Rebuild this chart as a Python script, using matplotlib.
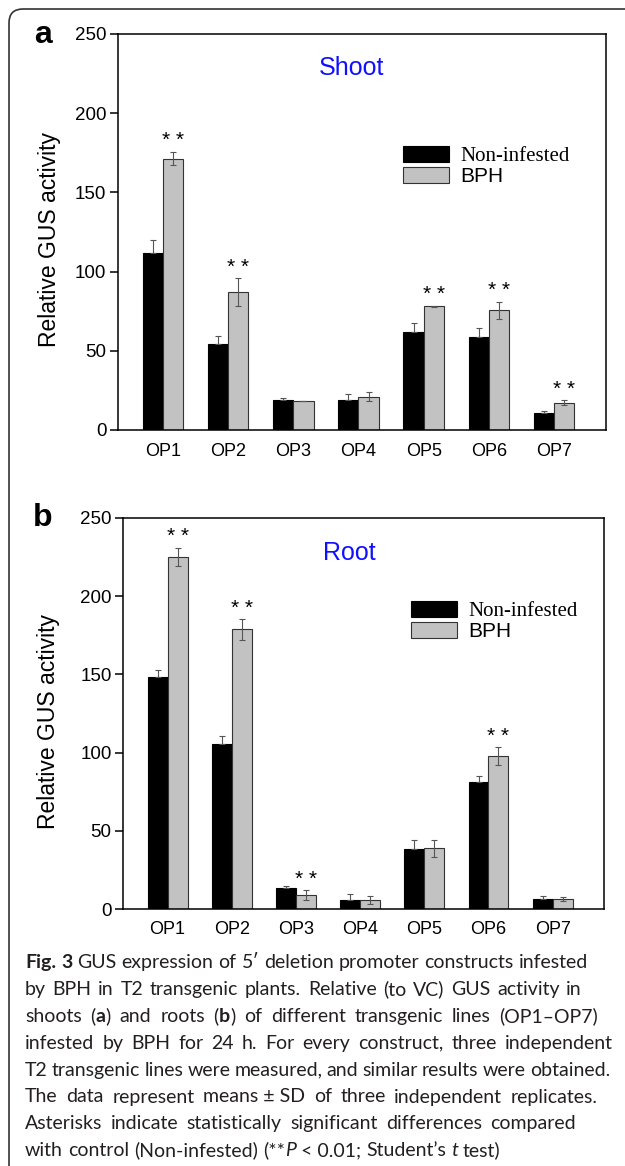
import re
import matplotlib.pyplot as plt
import numpy as np
from matplotlib.patches import FancyBboxPatch
from matplotlib.transforms import IdentityTransform

plt.rcParams['font.family'] = ['Liberation Sans', 'DejaVu Sans']

constructs = ["OP1", "OP2", "OP3", "OP4", "OP5", "OP6", "OP7"]

# panel a - shoots
shoot_ctrl = [111.6, 54.3, 19.0, 19.0, 61.7, 58.5, 11.0]
shoot_ctrl_sd = [8.4, 5.1, 1.4, 3.7, 5.7, 5.9, 1.2]
shoot_bph = [171.4, 87.2, 18.5, 21.0, 78.1, 75.6, 17.3]
shoot_bph_sd = [4.4, 8.8, 0.0, 2.8, 0.3, 5.3, 1.4]
shoot_sig = [True, True, False, False, True, True, True]

# panel b - roots
root_ctrl = [148.6, 105.5, 13.2, 6.0, 38.3, 81.3, 6.4]
root_ctrl_sd = [4.3, 5.2, 1.3, 3.4, 5.7, 3.9, 2.1]
root_bph = [225.1, 178.8, 9.0, 6.0, 38.7, 97.8, 6.4]
root_bph_sd = [6.0, 6.6, 3.0, 2.6, 5.5, 5.6, 1.0]
root_sig = [True, True, True, False, False, True, False]

caption = [
    "<b>Fig. 3</b> GUS expression of 5\u2032 deletion promoter constructs infested",
    "by BPH in T2 transgenic plants. Relative (to VC) GUS activity in",
    "shoots (<b>a</b>) and roots (<b>b</b>) of different transgenic lines (OP1\u2013OP7)",
    "infested by BPH for 24 h. For every construct, three independent",
    "T2 transgenic lines were measured, and similar results were obtained.",
    "The data represent means~\u00b1~SD of three independent replicates.",
    "Asterisks indicate statistically significant differences compared",
    "with control (Non-infested) (**<i>P</i>~<~0.01; Student\u2019s <i>t</i> test)",
]
caption_right = [588, 582, 598, 613, 610, 598, 576, None]

W, H = 625, 1166
fig = plt.figure(figsize=(W / 100, H / 100), dpi=100)


def px_rect(l, t, r, b):
    return [l / W, 1 - b / H, (r - l) / W, (b - t) / H]


def panel(ax, ctrl, ctrl_sd, bph, bph_sd, sig, title, title_xy, leg_xy, ylab_x):
    x = np.arange(len(constructs))
    w = 0.31
    ekw = dict(ecolor='#555555', elinewidth=0.8, capsize=2.5, capthick=0.8)
    ax.bar(x - w / 2, ctrl, w, yerr=(np.zeros(len(ctrl)), ctrl_sd), color='black',
           edgecolor='black', lw=0.8, label='Non-infested', error_kw=ekw)
    ax.bar(x + w / 2, bph, w, yerr=bph_sd, color='#c2c2c2', edgecolor='#333333',
           lw=0.8, label='BPH', error_kw=ekw)
    for i in range(len(constructs)):
        if sig[i]:
            ax.annotate('* *', (x[i] + w / 2, bph[i] + bph_sd[i]), xytext=(0, 1),
                        textcoords='offset points', ha='center', va='bottom', fontsize=15)
    ax.set_xlim(-0.7, 6.8)
    ax.set_ylim(0, 250)
    ax.set_yticks([0, 50, 100, 150, 200, 250])
    ax.set_xticks(x)
    ax.set_xticklabels(constructs)
    for s in ax.spines.values():
        s.set_linewidth(1.1)
    ax.tick_params(axis='y', direction='out', length=6, width=1.1, labelsize=13.5, pad=2)
    ax.tick_params(axis='x', length=0, pad=9, labelsize=13)
    ax.set_ylabel('Relative GUS activity', fontsize=16.5)
    ax.yaxis.set_label_coords(ylab_x, 0.48)
    ax.text(title_xy[0], title_xy[1], title, color='#1010ff', fontsize=18,
            ha='center', va='center', transform=ax.transAxes)
    leg = ax.legend(loc='upper left', bbox_to_anchor=leg_xy, frameon=False, fontsize=15,
                    borderpad=0, borderaxespad=0, labelspacing=0.05, handlelength=2.2,
                    handleheight=0.82, handletextpad=0.55)
    leg.get_texts()[0].set_fontfamily('Liberation Serif')


ax_a = fig.add_axes(px_rect(117.5, 34, 606, 430))
panel(ax_a, shoot_ctrl, shoot_ctrl_sd, shoot_bph, shoot_bph_sd, shoot_sig,
      'Shoot', (0.48, 0.914), (0.584, 0.718), -0.115)
ax_b = fig.add_axes(px_rect(122.7, 518, 604, 909))
panel(ax_b, root_ctrl, root_ctrl_sd, root_bph, root_bph_sd, root_sig,
      'Root', (0.47, 0.91), (0.599, 0.789), -0.13)

fig.text(43 / W, 1 - 43 / H, 'a', fontsize=23, weight='bold', ha='center', va='baseline')
fig.text(43 / W, 1 - 526 / H, 'b', fontsize=23, weight='bold', ha='center', va='baseline')

# outer rounded frame
frame = FancyBboxPatch((9, -30), 660, H - 9 + 30, boxstyle='round,pad=0,rounding_size=14',
                       transform=IdentityTransform(), fill=False, edgecolor='#333333', lw=1.2)
fig.add_artist(frame)

# caption, roughly justified like the original
cap_font = dict(family=['Lato', 'DejaVu Sans'], fontsize=14, color='#231f20')
renderer = fig.canvas.get_renderer()


def width(s, weight='normal', style='normal'):
    t = fig.text(0, 0, s, weight=weight, style=style, **cap_font)
    wpx = t.get_window_extent(renderer).width
    t.remove()
    return wpx


space_w = width('x x') - width('xx')
left = 25
for n, line in enumerate(caption):
    words = [[]]
    for chunk in re.split(r'(<b>.*?</b>|<i>.*?</i>)', line):
        if not chunk:
            continue
        weight, style = 'normal', 'normal'
        if chunk.startswith('<b>'):
            chunk, weight = chunk[3:-4], 'bold'
        elif chunk.startswith('<i>'):
            chunk, style = chunk[3:-4], 'italic'
        parts = chunk.split(' ')
        for k, p in enumerate(parts):
            if k > 0:
                words.append([])
            if p:
                words[-1].append((p.replace('~', ' '), weight, style))
    words = [wd for wd in words if wd]
    wws = [sum(width(*pc) for pc in wd) for wd in words]
    gap = space_w
    if caption_right[n] is not None and len(words) > 1:
        gap = (caption_right[n] - left - sum(wws)) / (len(words) - 1)
        gap = max(gap, 0.5 * space_w)
    xpos = left
    base = 968 + n * 26.9
    for wd, ww in zip(words, wws):
        for text, weight, style in wd:
            fig.text(xpos / W, 1 - base / H, text, weight=weight, style=style,
                     ha='left', va='baseline', **cap_font)
            xpos += width(text, weight, style)
        xpos += gap

fig.savefig('out.png', dpi=100)
